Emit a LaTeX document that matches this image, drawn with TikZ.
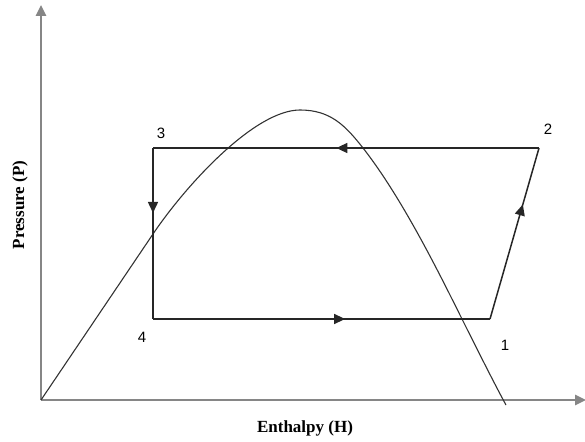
\documentclass[tikz,border=0pt]{standalone}
\usepackage{fontspec}
\setmainfont{Liberation Serif}
\newfontfamily\numfont{Liberation Sans}
\usetikzlibrary{arrows.meta,decorations.markings}
\tikzset{
  axisline/.style={draw=gray!95, line width=2.6pt, -{Triangle[length=11pt,width=10pt]}},
  cycleline/.style={draw=black!85, line width=1.5pt},
  midarrow/.style={postaction={decorate},decoration={markings,mark=at position #1 with {\arrow{Triangle[length=11pt,width=10pt]}}}},
  numlabel/.style={font=\numfont\fontsize{15}{15}\selectfont, inner sep=0pt},
  axislabel/.style={font=\bfseries\fontsize{17}{17}\selectfont, inner sep=0pt},
  dome/.style={draw=black!80, line width=1.1pt}
}
\begin{document}
\begin{tikzpicture}[x=1pt,y=-1pt]
\useasboundingbox (0,0) rectangle (585,441);
\coordinate (O) at (41,400);
\coordinate (Ytop) at (41,5);
\coordinate (Xend) at (586,400);
\draw[axisline] (O) -- (Ytop);
\draw[axisline] (O) -- (Xend);
% dome
\draw[dome] (41,400) -- (153,234)
  .. controls (186.6,184.2) and (255,110) .. (300,110)
  .. controls (330,110) and (345,125) .. (363,148)
  .. controls (402.6,198.6) and (440,275) .. (462,319)
  .. controls (475.2,345.4) and (495,385) .. (506,405);
% cycle
\coordinate (P1) at (490,319);
\coordinate (P2) at (539,148);
\coordinate (P3) at (153,148);
\coordinate (P4) at (153,319);
\draw[cycleline, midarrow=0.525] (P2) -- (P3);
\draw[cycleline, midarrow=0.38] (P3) -- (P4);
\draw[cycleline, midarrow=0.57] (P4) -- (P1);
\draw[cycleline, midarrow=0.67] (P1) -- (P2);
\node[numlabel] (L1) at (505,345) {1};
\node[numlabel] (L2) at (548,129) {2};
\node[numlabel] (L3) at (161,133) {3};
\node[numlabel] (L4) at (142,337) {4};
\node[axislabel] (XL) at (305,428) {Enthalpy (H)};
\node[axislabel, rotate=90] (YL) at (20,205) {Pressure (P)};
\end{tikzpicture}
\end{document}
